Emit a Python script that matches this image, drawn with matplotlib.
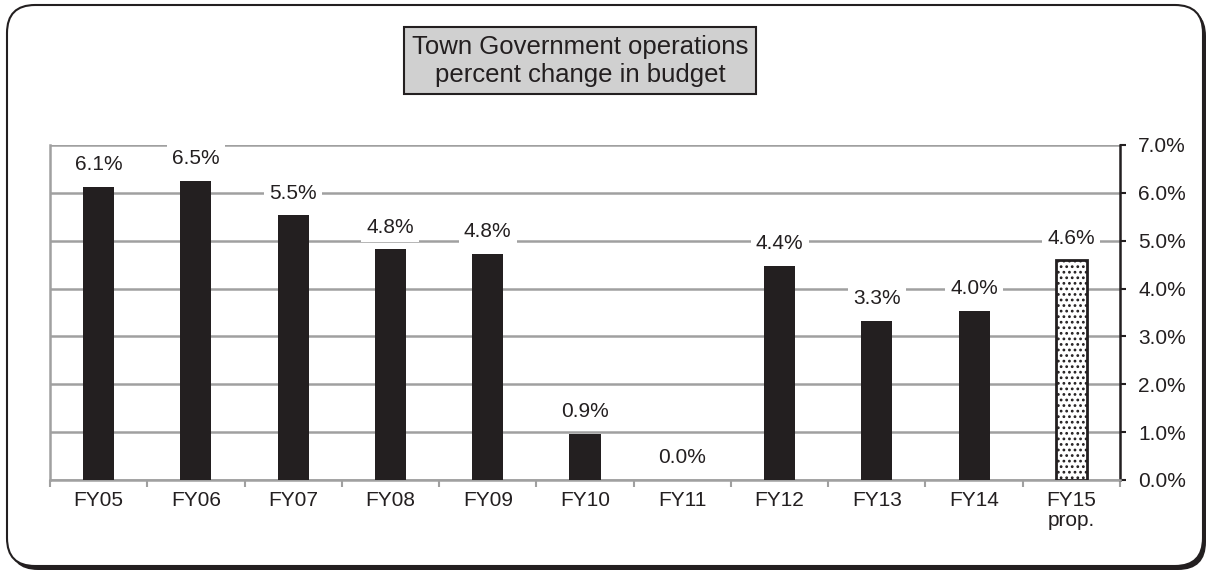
import numpy as np
import matplotlib.pyplot as plt
from matplotlib.patches import FancyBboxPatch

plt.rcParams['font.family'] = ['Liberation Sans', 'DejaVu Sans']
plt.rcParams['hatch.linewidth'] = 1.2

# Data
years = ['FY05', 'FY06', 'FY07', 'FY08', 'FY09', 'FY10', 'FY11',
         'FY12', 'FY13', 'FY14', 'FY15\nprop.']
heights = [6.12, 6.25, 5.53, 4.82, 4.72, 0.96, 0.0, 4.47, 3.33, 3.54, 4.59]
labels = ['6.1%', '6.5%', '5.5%', '4.8%', '4.8%', '0.9%', '0.0%',
          '4.4%', '3.3%', '4.0%', '4.6%']
yticks = [0, 1, 2, 3, 4, 5, 6, 7]

fig = plt.figure(figsize=(12.14, 5.74), dpi=100)

# Rounded outer frame with a drop shadow
shadow = FancyBboxPatch((0.10, 0.04), 11.96, 5.62,
                        boxstyle='round,pad=0,rounding_size=0.28',
                        transform=fig.dpi_scale_trans, facecolor='#231f20',
                        edgecolor='none', zorder=-2)
frame = FancyBboxPatch((0.07, 0.08), 11.96, 5.61,
                       boxstyle='round,pad=0,rounding_size=0.28',
                       transform=fig.dpi_scale_trans, facecolor='white',
                       edgecolor='#231f20', linewidth=1.5, zorder=-1)
fig.patches.extend([shadow, frame])

ax = fig.add_axes([0.0412, 0.1638, 0.8814, 0.5836])
ax.set_facecolor('none')
x = np.arange(len(years))

colors = ['#231f20'] * (len(years) - 1) + ['white']
bars = ax.bar(x, heights, width=0.32, color=colors, zorder=3)
bars[-1].set_hatch('...')
bars[-1].set_edgecolor('#231f20')
bars[-1].set_linewidth(2)

for xi, h, lab in zip(x, heights, labels):
    ax.annotate(lab, (xi, h), xytext=(0, 16), textcoords='offset points',
                ha='center', va='center', fontsize=15, color='#231f20',
                bbox=dict(boxstyle='square,pad=0.25', facecolor='white',
                          edgecolor='none'), zorder=4)

ax.set_xlim(-0.5, len(years) - 0.5)
ax.set_ylim(0, 7)
ax.yaxis.tick_right()
ax.set_yticks(yticks)
ax.set_yticklabels([f'{v:.1f}%' for v in yticks], fontsize=15, color='#231f20')
ax.yaxis.grid(True, color='#a0a0a0', linewidth=1.8, zorder=0)
ax.set_axisbelow(True)

ax.set_xticks(x)
ax.set_xticklabels(years, fontsize=15, color='#231f20', linespacing=1.05)
ax.set_xticks(np.arange(-0.5, len(years)), minor=True)
ax.tick_params(axis='x', which='major', length=0, pad=8)
ax.tick_params(axis='x', which='minor', length=5, width=1.5, color='#a0a0a0')
ax.tick_params(axis='y', length=4, width=1.5, color='#231f20', pad=9)

ax.spines['top'].set_visible(False)
ax.spines['left'].set_color('#a0a0a0')
ax.spines['left'].set_linewidth(1.8)
ax.spines['bottom'].set_color('#a0a0a0')
ax.spines['bottom'].set_linewidth(1.8)
ax.spines['right'].set_color('#231f20')
ax.spines['right'].set_linewidth(1.8)

fig.text(0.478, 0.894, 'Town Government operations\npercent change in budget',
         ha='center', va='center', fontsize=18.5, color='#231f20',
         linespacing=1.2,
         bbox=dict(boxstyle='square,pad=0.3', facecolor='#d0d0d0',
                   edgecolor='#231f20', linewidth=1.5))

fig.savefig('out.png', dpi=100)
